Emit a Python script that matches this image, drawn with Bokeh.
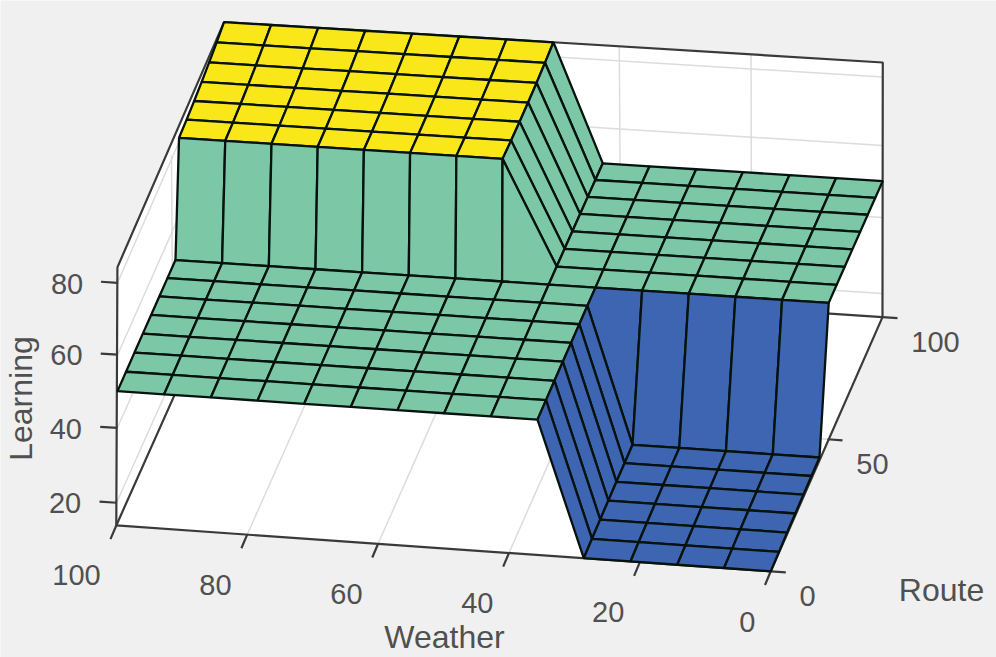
import numpy as np
from bokeh.plotting import figure
from bokeh.models import Range1d
from bokeh.core.properties import value
from bokeh.embed import file_html
from bokeh.resources import INLINE

# ---- chart data -------------------------------------------------------
weather = [0, 7.14, 14.29, 21.43, 28.57, 35.71, 42.86, 50, 57.14, 64.29, 71.43, 78.57, 85.71, 92.86, 100]
route = [0, 7.14, 14.29, 21.43, 28.57, 35.71, 42.86, 50, 57.14, 64.29, 71.43, 78.57, 85.71, 92.86, 100]
# Learning: one row per route value, one column per weather value
learning = [
    [14, 14, 14, 14, 14, 50, 50, 50, 50, 50, 50, 50, 50, 50, 50],
    [14, 14, 14, 14, 14, 50, 50, 50, 50, 50, 50, 50, 50, 50, 50],
    [14, 14, 14, 14, 14, 50, 50, 50, 50, 50, 50, 50, 50, 50, 50],
    [14, 14, 14, 14, 14, 50, 50, 50, 50, 50, 50, 50, 50, 50, 50],
    [14, 14, 14, 14, 14, 50, 50, 50, 50, 50, 50, 50, 50, 50, 50],
    [14, 14, 14, 14, 14, 50, 50, 50, 50, 50, 50, 50, 50, 50, 50],
    [14, 14, 14, 14, 14, 50, 50, 50, 50, 50, 50, 50, 50, 50, 50],
    [50, 50, 50, 50, 50, 50, 50, 50, 50, 50, 50, 50, 50, 50, 50],
    [50, 50, 50, 50, 50, 50, 50, 84.4, 84.4, 84.4, 84.4, 84.4, 84.4, 84.4, 84.4],
    [50, 50, 50, 50, 50, 50, 50, 84.4, 84.4, 84.4, 84.4, 84.4, 84.4, 84.4, 84.4],
    [50, 50, 50, 50, 50, 50, 50, 84.4, 84.4, 84.4, 84.4, 84.4, 84.4, 84.4, 84.4],
    [50, 50, 50, 50, 50, 50, 50, 84.4, 84.4, 84.4, 84.4, 84.4, 84.4, 84.4, 84.4],
    [50, 50, 50, 50, 50, 50, 50, 84.4, 84.4, 84.4, 84.4, 84.4, 84.4, 84.4, 84.4],
    [50, 50, 50, 50, 50, 50, 50, 84.4, 84.4, 84.4, 84.4, 84.4, 84.4, 84.4, 84.4],
    [50, 50, 50, 50, 50, 50, 50, 84.4, 84.4, 84.4, 84.4, 84.4, 84.4, 84.4, 84.4],
]
weather_ticks = [0, 20, 40, 60, 80, 100]
route_ticks = [0, 50, 100]
learning_ticks = [20, 40, 60, 80]
level_colors = {14: "#3E65B2", 50: "#7CC8A6", 84.4: "#FAE71A"}
z_low, z_high = 14, 84.4

# ---- view of the 3-D box, calibrated on the picture ---------------------
calib = [
    # box
    (100, 0, 14, 117, 525), (100, 0, 84.4, 117, 267), (0, 0, 14, 773, 569),
    (0, 100, 14, 883, 317), (0, 100, 84.4, 883, 64), (100, 100, 84.4, 224, 21),
    (80, 0, 14, 245, 537), (60, 0, 14, 375, 545), (20, 0, 14, 638, 563),
    (100, 0, 80, 117, 282), (100, 0, 60, 117, 354), (100, 0, 40, 117, 427), (100, 0, 20, 117, 500),
    (0, 100, 80, 882, 73), (0, 100, 60, 882, 145), (0, 100, 40, 882, 217), (0, 100, 20, 882, 290),
    (0, 50, 14, 826, 447), (100, 48, 14, 173, 397), (100, 100, 14, 227, 275),
    # top plateau
    (100, 57.14, 84.4, 177, 137), (50, 100, 84.4, 552, 43), (50, 57.14, 84.4, 500, 158),
    (71.43, 57.14, 84.4, 367, 150),
    # middle plateau
    (100, 0, 50, 117, 390), (100, 50, 50, 172, 265), (0, 100, 50, 882, 182),
    (42.86, 100, 50, 602, 163), (21.43, 100, 50, 743, 173), (0, 50, 50, 827, 307),
    (35.71, 0, 50, 537, 417), (78.57, 0, 50, 257, 402), (57.14, 0, 50, 397, 411),
    (50, 50, 50, 502, 287), (42.86, 50, 50, 553, 270), (42.86, 57.14, 50, 562, 252),
    (35.71, 50, 50, 592, 293), (28.57, 50, 50, 638, 296),
    # low plateau
    (0, 42.86, 14, 820, 453), (28.57, 0, 14, 583, 557), (28.57, 42.86, 14, 632, 443),
    (14.29, 42.86, 14, 723, 450), (14.29, 0, 14, 678, 563),
]


def basis(w, r, z):
    return [a * b for a in (1, w, r, w * r, r * r) for b in (1, z, z * z)]


A = np.array([basis(c[0], c[1], c[2]) for c in calib], float)
scale = np.abs(A).max(axis=0)
cu = np.linalg.lstsq(A / scale, np.array([c[3] for c in calib], float), rcond=None)[0] / scale
cv = np.linalg.lstsq(A / scale, np.array([c[4] for c in calib], float), rcond=None)[0] / scale


def proj(w, r, z):
    b = np.array(basis(w, r, z), float)
    return float(b @ cu), float(b @ cv)


def polyline(points):
    xy = [proj(*pt) for pt in points]
    return [c[0] for c in xy], [c[1] for c in xy]


p = figure(width=996, height=657, output_backend="svg", toolbar_location=None,
           x_range=Range1d(0, 996), y_range=Range1d(657, 0),
           background_fill_color="#f0f0f0", border_fill_color="#f0f0f0", min_border=0)
p.axis.visible = False
p.grid.visible = False
p.outline_line_color = None

# white panes
panes = [
    [(100, 0, z_low), (0, 0, z_low), (0, 100, z_low), (100, 100, z_low)],
    [(100, 100, z_low), (0, 100, z_low), (0, 100, z_high), (100, 100, z_high)],
    [(100, 0, z_low), (100, 100, z_low), (100, 100, z_high), (100, 0, z_high)],
]
pxs, pys = zip(*[polyline(s) for s in panes])
p.patches(list(pxs), list(pys), fill_color="white", line_color=None)

# grid lines
grid = []
for w in weather_ticks[1:-1]:
    grid.append([(w, 0, z_low), (w, 100, z_low), (w, 100, z_high)])
for r in route_ticks[1:-1]:
    grid.append([(0, r, z_low), (100, r, z_low), (100, r, z_high)])
for z in learning_ticks:
    grid.append([(100, 0, z), (100, 100, z), (0, 100, z)])
gxs, gys = zip(*[polyline(s) for s in grid])
p.multi_line(list(gxs), list(gys), line_color="#dcdcdc", line_width=1.5)

# box edges and ticks
box = [
    [(100, 0, z_high), (100, 0, z_low), (0, 0, z_low), (0, 100, z_low), (0, 100, z_high), (100, 100, z_high), (100, 0, z_high)],
    [(100, 0, z_low), (100, 100, z_low), (0, 100, z_low)],
]
for z in learning_ticks:
    box.append([(100, 0, z), (102.6, 0, z)])
for w in weather_ticks:
    box.append([(w, 0, z_low), (w, -5, z_low)])
for r in route_ticks:
    box.append([(0, r, z_low), (-2.3, r, z_low)])
bxs, bys = zip(*[polyline(s) for s in box])
p.multi_line(list(bxs), list(bys), line_color="#3a3a3a", line_width=2.2)

# surface, far cells first
sx, sy, sc = [], [], []
for i in range(len(route) - 2, -1, -1):
    for j in range(len(weather) - 2, -1, -1):
        cx, cy = polyline([
            (weather[j], route[i], learning[i][j]),
            (weather[j + 1], route[i], learning[i][j + 1]),
            (weather[j + 1], route[i + 1], learning[i + 1][j + 1]),
            (weather[j], route[i + 1], learning[i + 1][j]),
        ])
        sx.append(cx); sy.append(cy); sc.append(level_colors[learning[i][j]])
p.patches(sx, sy, fill_color=sc, line_color="#06120e", line_width=2.3)

# tick labels
font = value("Liberation Sans")
tick_style = dict(text_font=font, text_font_size=value("29px"), text_color="#505050", text_baseline="middle")
pos = [proj(w, -16, z_low) for w in weather_ticks]
p.text([c[0] for c in pos], [c[1] for c in pos], text=[str(t) for t in weather_ticks],
       text_align="right", x_offset=3, y_offset=6, **tick_style)
pos = [proj(-4.4, r, z_low) for r in route_ticks]
p.text([c[0] for c in pos], [c[1] for c in pos], text=[str(t) for t in route_ticks],
       text_align="left", y_offset=23, **tick_style)
pos = [proj(105.4, 0, z) for z in learning_ticks]
p.text([c[0] for c in pos], [c[1] for c in pos], text=[str(t) for t in learning_ticks],
       text_align="right", y_offset=3, **tick_style)

# axis titles
title_style = dict(text_font=font, text_font_size=value("32px"), text_color="#505050",
                   text_baseline="middle", text_align="center")
p.text([444], [636], text=["Weather"], **title_style)
p.text([941], [589], text=["Route"], **title_style)
p.text([20], [398], text=["Learning"], angle=np.pi / 2, **title_style)

open("out.html", "w").write(file_html(p, INLINE))
